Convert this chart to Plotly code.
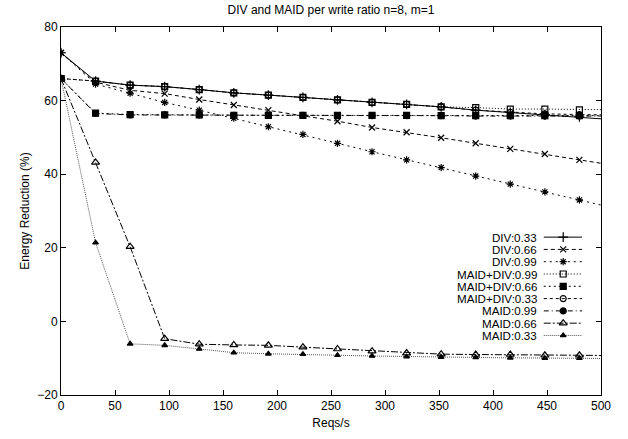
import plotly.graph_objects as go

reqs = [0, 32, 64, 96, 128, 160, 192, 224, 256, 288, 320, 352, 384, 416, 448, 480, 512]

div_033 = [73, 65.3, 64.2, 63.8, 63.0, 62.1, 61.5, 60.9, 60.2, 59.5, 59.0, 58.3, 57.4, 56.8, 56.2, 55.6, 54.8]
div_066 = [73, 65.0, 62.8, 61.9, 60.3, 58.8, 57.4, 56.0, 54.4, 52.7, 51.4, 49.9, 48.4, 46.9, 45.5, 43.9, 42.4]
div_099 = [73, 64.5, 62.0, 59.5, 57.4, 55.2, 52.9, 50.8, 48.4, 46.1, 43.9, 41.8, 39.5, 37.3, 35.2, 33.0, 30.8]
maiddiv_099 = [66, 65.3, 64.2, 63.8, 63.0, 62.1, 61.5, 60.9, 60.2, 59.5, 59.0, 58.3, 58.1, 57.7, 57.7, 57.5, 57.5]
maiddiv_066 = [66, 56.6, 56.2, 56.1, 56.1, 56.0, 56.0, 56.0, 56.0, 56.0, 56.0, 55.9, 55.9, 55.9, 55.9, 55.9, 55.9]
maiddiv_033 = [66, 65.3, 64.2, 63.8, 63.0, 62.1, 61.5, 60.9, 60.2, 59.5, 59.0, 58.3, 57.4, 56.8, 56.4, 56.2, 56.1]
maid_099 = [66, 56.5, 56.1, 56.1, 56.1, 56.0, 56.0, 56.0, 55.9, 55.9, 55.9, 55.9, 55.8, 55.8, 55.8, 55.8, 55.8]
maid_066 = [66, 43.2, 20.3, -4.7, -6.2, -6.4, -6.5, -7.0, -7.5, -8.1, -8.6, -8.9, -9.0, -9.0, -9.2, -9.2, -9.3]
maid_033 = [66, 21.4, -6.1, -6.5, -7.5, -8.5, -8.8, -8.9, -9.2, -9.4, -9.6, -9.7, -9.8, -9.9, -10.0, -10.0, -10.1]

names = ["DIV:0.33", "DIV:0.66", "DIV:0.99", "MAID+DIV:0.99", "MAID+DIV:0.66",
         "MAID+DIV:0.33", "MAID:0.99", "MAID:0.66", "MAID:0.33"]
series = [div_033, div_066, div_099, maiddiv_099, maiddiv_066, maiddiv_033,
          maid_099, maid_066, maid_033]

styles = [
    dict(dash="solid", color="black", sym="cross-thin-open", size=7),
    dict(dash="4px,3px", color="black", sym="x-thin-open", size=6),
    dict(dash="2px,4px", color="black", sym="asterisk-open", size=6),
    dict(dash="1px,2px", color="black", sym="square-open", size=6),
    dict(dash="2px,3px", color="black", sym="square", size=6),
    dict(dash="3px,3px", color="black", sym="circle-open", size=6),
    dict(dash="5px,3px,1px,3px", color="black", sym="circle", size=6),
    dict(dash="7px,2px,2px,2px", color="black", sym="triangle-up-open", size=7),
    dict(dash="1px,1px", color="#555555", sym="triangle-up", size=5),
]

fig = go.Figure()
for name, ys, st in zip(names, series, styles):
    fig.add_trace(go.Scatter(
        x=reqs, y=ys, mode="lines+markers", name=name, showlegend=False,
        line=dict(color=st["color"], width=1, dash=st["dash"]),
        marker=dict(symbol=st["sym"], size=st["size"], color="black",
                    line=dict(color="black", width=1.2)),
    ))

# hand-built legend (text, then sample) on an overlay axis
leg_top = 0.429
leg_step = 0.0334
x_text = 0.883
x_s0, x_s1, x_m = 0.894, 0.965, 0.930
annotations = []
for i, (name, st) in enumerate(zip(names, styles)):
    yy = leg_top - i * leg_step
    fig.add_trace(go.Scatter(
        x=[x_s0, x_s1], y=[yy, yy], mode="lines", xaxis="x2", yaxis="y2",
        showlegend=False, hoverinfo="skip",
        line=dict(color=st["color"], width=1, dash=st["dash"]),
    ))
    fig.add_trace(go.Scatter(
        x=[x_m], y=[yy], mode="markers", xaxis="x2", yaxis="y2",
        showlegend=False, hoverinfo="skip",
        marker=dict(symbol=st["sym"], size=st["size"], color="black",
                    line=dict(color="black", width=1.2)),
    ))
    annotations.append(dict(
        x=x_text, y=yy, xref="paper", yref="paper", text=name, showarrow=False,
        xanchor="right", yanchor="middle", font=dict(size=11.6, color="black"),
        borderpad=0,
    ))

axis_common = dict(
    showgrid=False, zeroline=False, showline=True, linecolor="black", linewidth=1,
    mirror="ticks", ticks="inside", ticklen=5, tickcolor="black", tickwidth=1,
    tickfont=dict(size=12, color="black"),
)

fig.update_layout(
    width=628, height=439,
    margin=dict(l=61, r=27, t=27, b=44),
    paper_bgcolor="white", plot_bgcolor="white",
    font=dict(family="Liberation Sans, Arial, sans-serif", size=12, color="black"),
    title=dict(text="DIV and MAID per write ratio n=8, m=1", x=0.527, xanchor="center",
               y=0.977, yanchor="middle", font=dict(size=12, color="black")),
    xaxis=dict(range=[0, 500], tickvals=list(range(0, 501, 50)),
               title=dict(text="Reqs/s", standoff=6, font=dict(size=12)), **axis_common),
    yaxis=dict(range=[-20, 80], tickvals=list(range(-20, 81, 20)),
               title=dict(text="Energy Reduction (%)", standoff=5, font=dict(size=12)),
               **axis_common),
    xaxis2=dict(overlaying="x", range=[0, 1], visible=False),
    yaxis2=dict(overlaying="y", range=[0, 1], visible=False),
    annotations=annotations,
)

fig.write_html("out.html")
